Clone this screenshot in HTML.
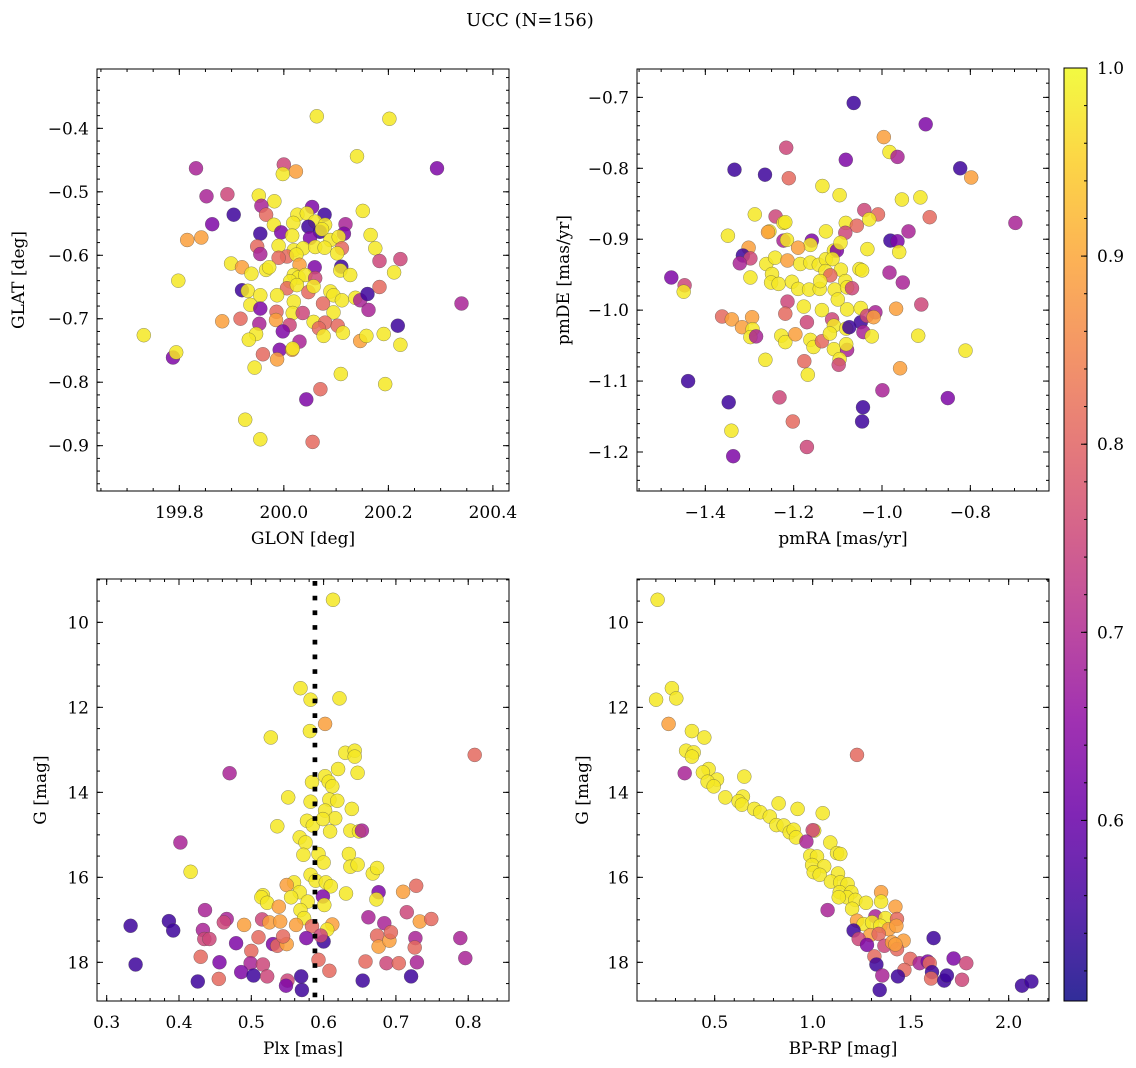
<!DOCTYPE html>
<html><head><meta charset="utf-8"><title>UCC (N=156)</title>
<style>
html,body{margin:0;padding:0;background:#fff;}
svg{display:block;font-family:"DejaVu Serif","Liberation Serif",serif;}
</style></head>
<body>
<svg id="fig" xmlns="http://www.w3.org/2000/svg" width="1136" height="1068" viewBox="0 0 1136 1068">
<rect width="1136" height="1068" fill="#fff"/>
<text x="530" y="26" font-size="18" text-anchor="middle">UCC (N=156)</text>
</svg>
<script>
// ---------- Panel 1 data: GLON / GLAT ----------
const glon=[200.063,200.202,200.140,199.832,200.293,200.000,200.023,199.998,199.852,199.892,199.952,199.982,199.957,199.966,199.904,199.863,200.054,200.078,200.026,200.044,199.981,200.018,200.060,200.079,200.047,200.118,200.151,199.955,199.995,200.016,200.069,200.073,200.115,200.089,200.105,200.050,199.815,199.842,200.166,200.175,200.111,199.949,199.955,199.990,200.019,200.037,200.060,200.078,200.102,200.006,199.990,200.024,200.183,200.223,199.899,199.920,199.938,199.966,199.972,200.059,200.110,200.108,200.127,200.211,200.030,200.019,200.028,200.041,200.012,200.060,200.006,200.025,200.047,200.057,199.798,199.920,199.931,199.955,199.987,200.019,200.089,200.095,200.111,200.137,200.146,200.160,200.183,200.075,200.095,200.162,199.936,199.955,199.986,199.985,200.017,200.036,199.882,199.917,199.953,200.011,200.057,200.079,200.103,200.113,200.067,200.076,199.998,199.947,199.933,200.030,199.992,200.016,200.017,199.960,199.987,199.944,200.146,200.158,200.191,200.223,200.218,200.340,199.732,199.788,199.794,200.109,200.194,200.070,200.043,199.926,199.955,200.055];
const glat=[-0.381,-0.385,-0.444,-0.463,-0.463,-0.457,-0.468,-0.472,-0.507,-0.504,-0.506,-0.515,-0.522,-0.536,-0.536,-0.551,-0.524,-0.536,-0.536,-0.534,-0.552,-0.549,-0.547,-0.552,-0.555,-0.551,-0.530,-0.566,-0.564,-0.569,-0.563,-0.559,-0.566,-0.576,-0.571,-0.573,-0.576,-0.572,-0.568,-0.589,-0.589,-0.586,-0.598,-0.585,-0.592,-0.589,-0.587,-0.588,-0.597,-0.602,-0.604,-0.599,-0.609,-0.606,-0.613,-0.619,-0.629,-0.623,-0.619,-0.619,-0.618,-0.624,-0.631,-0.627,-0.615,-0.631,-0.635,-0.631,-0.641,-0.636,-0.652,-0.647,-0.658,-0.649,-0.640,-0.655,-0.656,-0.663,-0.663,-0.673,-0.657,-0.663,-0.671,-0.667,-0.671,-0.661,-0.650,-0.676,-0.690,-0.686,-0.678,-0.684,-0.689,-0.702,-0.691,-0.691,-0.704,-0.700,-0.708,-0.710,-0.705,-0.706,-0.711,-0.722,-0.715,-0.727,-0.720,-0.724,-0.733,-0.736,-0.749,-0.749,-0.747,-0.756,-0.764,-0.777,-0.735,-0.727,-0.724,-0.741,-0.711,-0.676,-0.726,-0.761,-0.753,-0.787,-0.803,-0.811,-0.827,-0.859,-0.890,-0.894];
const prob1=[0.98,0.98,0.98,0.69,0.63,0.75,0.89,0.98,0.69,0.75,0.98,0.98,0.69,0.81,0.55,0.63,0.63,0.55,0.98,0.98,0.98,0.98,0.98,0.98,0.55,0.69,0.98,0.55,0.63,0.98,0.55,0.98,0.63,0.98,0.98,0.63,0.89,0.89,0.98,0.98,0.81,0.81,0.69,0.98,0.98,0.98,0.98,0.98,0.98,0.81,0.81,0.98,0.75,0.75,0.98,0.89,0.98,0.98,0.98,0.63,0.55,0.98,0.98,0.98,0.89,0.98,0.98,0.98,0.98,0.75,0.81,0.98,0.81,0.98,0.98,0.55,0.98,0.98,0.98,0.98,0.98,0.98,0.98,0.98,0.69,0.55,0.81,0.81,0.98,0.69,0.98,0.63,0.81,0.89,0.98,0.75,0.89,0.81,0.69,0.75,0.98,0.81,0.81,0.98,0.81,0.98,0.63,0.98,0.98,0.69,0.63,0.89,0.98,0.81,0.89,0.98,0.89,0.98,0.98,0.98,0.55,0.69,0.98,0.63,0.98,0.98,0.98,0.81,0.63,0.98,0.98,0.81];

// ---------- Panel 2 data: pmRA / pmDE ----------
const pmra=[-1.064,-0.901,-0.996,-0.983,-0.965,-1.217,-1.082,-1.334,-1.265,-1.211,-0.823,-0.798,-1.135,-1.096,-0.955,-0.913,-1.288,-1.241,-1.223,-1.219,-1.040,-1.009,-1.029,-0.892,-1.082,-1.057,-1.083,-0.940,-1.127,-1.349,-1.255,-1.258,-1.223,-1.215,-1.159,-1.162,-0.981,-0.965,-1.190,-1.302,-1.315,-1.298,-1.322,-1.262,-1.242,-1.214,-1.185,-1.162,-1.143,-1.127,-1.109,-1.102,-1.094,-1.112,-1.093,-1.128,-1.117,-1.051,-1.045,-0.961,-1.033,-1.477,-1.447,-1.449,-1.298,-1.249,-1.251,-1.234,-1.204,-1.190,-1.165,-1.141,-1.140,-1.107,-1.083,-1.079,-1.068,-1.100,-0.983,-0.953,-1.214,-1.177,-1.136,-1.219,-1.079,-1.048,-0.911,-0.968,-1.362,-1.340,-1.294,-1.170,-1.113,-1.109,-1.048,-1.034,-1.015,-1.019,-1.317,-1.293,-1.298,-1.285,-1.228,-1.219,-1.196,-1.162,-1.155,-1.136,-1.118,-1.081,-1.074,-1.042,-1.023,-0.918,-1.109,-1.079,-1.081,-1.096,-1.098,-1.264,-1.176,-1.168,-0.959,-0.811,-0.698,-1.439,-1.347,-1.232,-1.341,-1.202,-1.170,-1.337,-1.043,-1.045,-0.999,-0.851];
const pmde=[-0.708,-0.738,-0.756,-0.777,-0.784,-0.771,-0.788,-0.802,-0.809,-0.814,-0.800,-0.813,-0.825,-0.838,-0.844,-0.841,-0.865,-0.868,-0.877,-0.876,-0.859,-0.865,-0.872,-0.869,-0.877,-0.881,-0.891,-0.889,-0.889,-0.895,-0.889,-0.890,-0.902,-0.901,-0.902,-0.908,-0.902,-0.903,-0.912,-0.912,-0.923,-0.927,-0.934,-0.935,-0.926,-0.930,-0.935,-0.933,-0.936,-0.928,-0.916,-0.916,-0.905,-0.928,-0.943,-0.945,-0.951,-0.942,-0.944,-0.918,-0.914,-0.954,-0.965,-0.974,-0.954,-0.949,-0.961,-0.963,-0.960,-0.970,-0.971,-0.970,-0.959,-0.971,-0.959,-0.968,-0.969,-0.985,-0.947,-0.961,-0.988,-0.995,-1.000,-1.005,-0.999,-0.997,-0.992,-0.998,-1.009,-1.013,-1.010,-1.017,-1.013,-1.022,-1.017,-1.008,-1.003,-1.010,-1.024,-1.027,-1.038,-1.037,-1.036,-1.045,-1.034,-1.042,-1.052,-1.044,-1.033,-1.026,-1.024,-1.031,-1.037,-1.036,-1.055,-1.056,-1.048,-1.069,-1.077,-1.070,-1.072,-1.091,-1.082,-1.057,-0.877,-1.100,-1.130,-1.123,-1.170,-1.157,-1.193,-1.206,-1.137,-1.157,-1.113,-1.124];
const prob2=[0.55,0.63,0.89,0.98,0.69,0.75,0.63,0.55,0.55,0.81,0.55,0.89,0.98,0.98,0.98,0.98,0.98,0.75,0.98,0.98,0.75,0.81,0.98,0.81,0.98,0.81,0.75,0.69,0.98,0.98,0.98,0.89,0.69,0.98,0.63,0.98,0.55,0.63,0.89,0.89,0.55,0.75,0.69,0.98,0.98,0.89,0.98,0.98,0.98,0.98,0.98,0.63,0.98,0.98,0.98,0.98,0.81,0.98,0.98,0.98,0.98,0.63,0.75,0.98,0.98,0.98,0.98,0.98,0.98,0.98,0.98,0.98,0.98,0.98,0.98,0.98,0.75,0.98,0.69,0.69,0.75,0.98,0.98,0.81,0.98,0.98,0.75,0.89,0.81,0.89,0.89,0.75,0.75,0.98,0.55,0.75,0.69,0.89,0.89,0.98,0.98,0.69,0.98,0.98,0.89,0.98,0.98,0.81,0.98,0.98,0.55,0.69,0.98,0.98,0.98,0.69,0.98,0.98,0.75,0.98,0.81,0.98,0.89,0.98,0.69,0.55,0.55,0.75,0.98,0.81,0.75,0.63,0.55,0.55,0.69,0.63];

// ---------- Panel 3 data: Plx / G ----------
const plx=[0.613,0.568,0.582,0.622,0.602,0.581,0.527,0.809,0.630,0.643,0.643,0.470,0.620,0.647,0.602,0.584,0.607,0.612,0.551,0.582,0.608,0.619,0.602,0.616,0.639,0.577,0.585,0.599,0.536,0.609,0.637,0.649,0.653,0.402,0.567,0.575,0.572,0.593,0.600,0.635,0.637,0.647,0.416,0.668,0.674,0.582,0.589,0.603,0.610,0.559,0.549,0.567,0.631,0.676,0.710,0.728,0.516,0.514,0.555,0.599,0.673,0.522,0.578,0.601,0.538,0.568,0.436,0.573,0.386,0.466,0.462,0.490,0.515,0.525,0.540,0.562,0.584,0.612,0.605,0.662,0.684,0.715,0.733,0.749,0.333,0.392,0.433,0.435,0.442,0.479,0.510,0.530,0.536,0.549,0.544,0.576,0.600,0.596,0.674,0.676,0.691,0.693,0.727,0.726,0.789,0.430,0.500,0.340,0.456,0.499,0.516,0.593,0.608,0.658,0.687,0.704,0.729,0.796,0.486,0.503,0.522,0.426,0.455,0.550,0.548,0.569,0.570,0.654,0.721];
const gmag3=[9.47,11.55,11.82,11.79,12.39,12.56,12.71,13.12,13.07,13.02,13.16,13.55,13.45,13.54,13.62,13.76,13.75,13.86,14.12,14.22,14.17,14.20,14.43,14.61,14.39,14.67,14.78,14.63,14.80,14.92,14.90,14.92,14.90,15.18,15.06,15.18,15.47,15.45,15.65,15.45,15.75,15.70,15.87,15.91,15.78,15.94,16.08,16.12,16.21,16.12,16.18,16.35,16.38,16.35,16.34,16.20,16.42,16.47,16.47,16.45,16.52,16.60,16.57,16.65,16.69,16.77,16.77,16.96,17.03,16.98,17.06,17.12,16.99,17.06,17.04,17.12,17.15,17.11,17.23,16.94,17.08,16.82,17.04,16.98,17.14,17.25,17.24,17.45,17.45,17.55,17.41,17.57,17.61,17.57,17.39,17.43,17.51,17.37,17.37,17.63,17.49,17.29,17.43,17.65,17.43,17.87,17.73,18.05,18.00,18.02,18.05,17.94,18.20,17.98,18.02,18.02,18.00,17.90,18.23,18.31,18.33,18.45,18.39,18.43,18.55,18.33,18.65,18.43,18.33];
const prob3=[0.98,0.98,0.98,0.98,0.89,0.98,0.98,0.81,0.98,0.98,0.98,0.69,0.98,0.98,0.98,0.98,0.98,0.98,0.98,0.98,0.98,0.98,0.98,0.98,0.98,0.98,0.98,0.98,0.98,0.98,0.98,0.98,0.69,0.69,0.98,0.98,0.98,0.98,0.98,0.98,0.98,0.98,0.98,0.98,0.98,0.98,0.98,0.98,0.98,0.98,0.89,0.98,0.98,0.63,0.89,0.81,0.98,0.98,0.98,0.63,0.98,0.98,0.98,0.98,0.89,0.98,0.69,0.98,0.55,0.69,0.75,0.89,0.75,0.89,0.89,0.89,0.81,0.89,0.98,0.69,0.69,0.75,0.89,0.81,0.55,0.55,0.69,0.75,0.75,0.63,0.81,0.63,0.81,0.89,0.81,0.63,0.55,0.75,0.81,0.89,0.89,0.81,0.69,0.81,0.69,0.81,0.81,0.55,0.63,0.69,0.75,0.81,0.81,0.81,0.75,0.81,0.69,0.69,0.63,0.55,0.75,0.55,0.81,0.75,0.63,0.55,0.55,0.55,0.55];
const plxLine=[0.588];

// ---------- Panel 4 data: BP-RP / G ----------
const bprp=[0.209,0.201,0.282,0.304,0.265,0.384,0.447,0.354,0.393,0.384,0.347,0.469,0.440,0.512,0.464,0.495,0.651,1.226,0.554,0.644,0.622,0.639,0.702,0.733,0.826,0.923,1.051,0.781,0.815,0.852,0.883,0.903,0.915,1.008,1.000,0.968,1.090,1.124,1.141,0.988,1.022,0.997,1.059,1.005,1.036,1.129,1.093,1.141,1.178,1.138,1.197,1.175,1.218,1.133,1.272,1.201,1.076,1.349,1.349,1.422,1.320,1.226,1.260,1.303,1.371,1.430,1.345,1.388,1.427,1.209,1.294,1.337,1.235,1.277,1.366,1.405,1.464,1.430,1.422,1.617,1.315,1.325,1.498,1.546,1.587,1.597,1.468,1.609,1.604,1.435,1.355,1.342,1.671,1.685,1.719,1.784,1.762,2.068,2.116];
const gmag4=[9.47,11.82,11.55,11.79,12.39,12.56,12.71,13.02,13.06,13.16,13.55,13.45,13.53,13.70,13.75,13.86,13.63,13.12,14.12,14.10,14.21,14.29,14.39,14.47,14.26,14.39,14.49,14.57,14.77,14.78,14.94,14.88,15.06,14.90,14.89,15.16,15.18,15.43,15.45,15.49,15.51,15.71,15.74,15.88,15.94,15.91,16.10,16.12,16.16,16.35,16.35,16.47,16.53,16.47,16.60,16.74,16.77,16.35,16.57,16.69,16.92,17.02,17.10,17.06,16.96,16.98,17.14,17.22,17.14,17.25,17.36,17.33,17.45,17.59,17.61,17.53,17.49,17.69,17.58,17.43,17.86,18.05,17.92,18.02,17.98,18.02,18.18,18.23,18.38,18.33,18.31,18.65,18.43,18.31,17.91,18.02,18.41,18.55,18.45];
const prob4=[0.98,0.98,0.98,0.98,0.89,0.98,0.98,0.98,0.98,0.98,0.69,0.98,0.98,0.98,0.98,0.98,0.98,0.81,0.98,0.98,0.98,0.98,0.98,0.98,0.98,0.98,0.98,0.98,0.98,0.98,0.98,0.98,0.98,0.98,0.75,0.69,0.98,0.98,0.98,0.98,0.98,0.98,0.98,0.98,0.98,0.98,0.98,0.98,0.98,0.98,0.98,0.98,0.98,0.98,0.98,0.98,0.69,0.89,0.98,0.89,0.69,0.89,0.98,0.98,0.98,0.81,0.98,0.89,0.89,0.55,0.89,0.81,0.75,0.63,0.75,0.89,0.89,0.81,0.89,0.55,0.81,0.55,0.81,0.69,0.63,0.81,0.81,0.55,0.81,0.55,0.69,0.55,0.55,0.55,0.63,0.75,0.75,0.55,0.55];

// ---------- Colorbar ----------
const cbTicks=[0.6,0.7,0.8,0.9,1.0];
const cbRange=[0.504,1.0];

const NS="http://www.w3.org/2000/svg";
const svg=document.getElementById('fig');
function mk(tag,attrs,parent){const e=document.createElementNS(NS,tag);for(const k in attrs)e.setAttribute(k,attrs[k]);(parent||svg).appendChild(e);return e;}

const plasmaStops=[[13,8,135],[65,4,157],[106,0,168],[143,13,164],[177,42,144],[204,71,120],[225,100,98],[242,132,75],[252,166,54],[252,206,37],[240,249,33]];
function plasma(t){t=Math.max(0,Math.min(1,t));const s=t*10;const i=Math.min(9,Math.floor(s));const f=s-i;const a=plasmaStops[i],b=plasmaStops[i+1];
 return 'rgb('+[0,1,2].map(k=>Math.round(a[k]+(b[k]-a[k])*f)).join(',')+')';}
function cmap(v){return plasma((v-cbRange[0])/(cbRange[1]-cbRange[0]));}

function fmt(v,dec){const s=Math.abs(v).toFixed(dec);return (v<-1e-9?'\u2212':'')+s;}

function panel(cfg){
 const {x0,x1,y0,y1,xd,yd,name}=cfg;
 const sx=v=>x0+(v-xd[0])/(xd[1]-xd[0])*(x1-x0);
 const sy=v=>y1-(v-yd[0])/(yd[1]-yd[0])*(y1-y0);
 const g=mk('g',{});
 
 
 const defs=mk('clipPath',{id:'clip-'+name},g);
 mk('rect',{x:x0,y:y0,width:x1-x0,height:y1-y0},defs);
 const pts=mk('g',{'clip-path':'url(#clip-'+name+')'},g);
 
 
 for(let i=0;i<cfg.xs.length;i++){
  const c=mk('circle',{cx:sx(cfg.xs[i]).toFixed(1),cy:sy(cfg.ys[i]).toFixed(1),r:7,fill:cmap(cfg.cs[i]),'fill-opacity':0.85,stroke:'#444','stroke-width':0.5,'stroke-opacity':0.6},pts);
  
  
 }
 if(cfg.vline){const l=mk('line',{x1:sx(cfg.vline[0]),x2:sx(cfg.vline[0]),y1:y0+2,y2:y1,stroke:'#000','stroke-width':4.7,'stroke-dasharray':'4.7 10'},pts);
  
  }
 mk('rect',{x:x0,y:y0,width:x1-x0,height:y1-y0,fill:'none',stroke:'#000','stroke-width':1},g);
 const tk=mk('g',{stroke:'#000','stroke-width':1},g);
 function ticks(dom,step,len,isX,labels){
  const lo=Math.min(dom[0],dom[1]),hi=Math.max(dom[0],dom[1]);
  const n0=Math.ceil(lo/step-1e-6),n1=Math.floor(hi/step+1e-6);
  for(let n=n0;n<=n1;n++){const v=n*step;
   if(isX){const p=sx(v);mk('line',{x1:p,x2:p,y1:y1,y2:y1-len},tk);mk('line',{x1:p,x2:p,y1:y0,y2:y0+len},tk);
    if(labels){const t=mk('text',{x:p,y:y1+27,'font-size':17,'text-anchor':'middle'},g);t.textContent=fmt(v,cfg.xdec);
     }}
   else{const p=sy(v);mk('line',{y1:p,y2:p,x1:x0,x2:x0+len},tk);mk('line',{y1:p,y2:p,x1:x1,x2:x1-len},tk);
    if(labels){const t=mk('text',{x:x0-8,y:p+6,'font-size':17,'text-anchor':'end'},g);t.textContent=fmt(v,cfg.ydec);
     }}
  }
 }
 ticks(xd,cfg.xmin,3,true,false);ticks(xd,cfg.xmaj,6,true,true);
 ticks(yd,cfg.ymin,3,false,false);ticks(yd,cfg.ymaj,6,false,true);
 const xl=mk('text',{x:(x0+x1)/2,y:y1+53,'font-size':17,'text-anchor':'middle'},g);xl.textContent=cfg.xlabel;
 
 const yx=cfg.ylx,yy=(y0+y1)/2;
 const yl=mk('text',{x:yx,y:yy,'font-size':17,'text-anchor':'middle',transform:'rotate(-90 '+yx+' '+yy+')'},g);yl.textContent=cfg.ylabel;
 
}

panel({name:'glon-glat-panel',x0:97,x1:509,y0:69,y1:491,xd:[199.6425,200.4308],yd:[-0.9714,-0.3065],xs:glon,ys:glat,cs:prob1,
 xmaj:0.2,xmin:0.05,ymaj:0.1,ymin:0.02,xdec:1,ydec:1,xlabel:'GLON [deg]',ylabel:'GLAT [deg]',ylx:24});
panel({name:'pm-panel',x0:637,x1:1049,y0:69,y1:491,xd:[-1.5547,-0.6219],yd:[-1.255,-0.66],xs:pmra,ys:pmde,cs:prob2,
 xmaj:0.2,xmin:0.05,ymaj:0.1,ymin:0.02,xdec:1,ydec:1,xlabel:'pmRA [mas/yr]',ylabel:'pmDE [mas/yr]',ylx:569});
panel({name:'plx-g-panel',x0:97,x1:509,y0:579,y1:1001,xd:[0.2866,0.8564],yd:[18.91,8.98],xs:plx,ys:gmag3,cs:prob3,vline:plxLine,
 xmaj:0.1,xmin:0.02,ymaj:2,ymin:0.5,xdec:1,ydec:0,xlabel:'Plx [mas]',ylabel:'G [mag]',ylx:46});
panel({name:'cmd-panel',x0:637,x1:1049,y0:579,y1:1001,xd:[0.1037,2.2057],yd:[18.91,8.98],xs:bprp,ys:gmag4,cs:prob4,
 xmaj:0.5,xmin:0.1,ymaj:2,ymin:0.5,xdec:1,ydec:0,xlabel:'BP-RP [mag]',ylabel:'G [mag]',ylx:588});

(function(){
 const x0=1064,x1=1087,y0=68,y1=1001;
 const g=mk('g',{});
 
 
 const defs=mk('defs',{},g);
 const lg=mk('linearGradient',{id:'cbgrad',x1:0,y1:1,x2:0,y2:0},defs);
 for(let i=0;i<=20;i++){mk('stop',{offset:(i/20),'stop-color':plasma(i/20),'stop-opacity':0.85},lg);}
 mk('rect',{x:x0,y:y0,width:x1-x0,height:y1-y0,fill:'url(#cbgrad)',stroke:'#000','stroke-width':1},g);
 const sy=v=>y1-(v-cbRange[0])/(cbRange[1]-cbRange[0])*(y1-y0);
 for(let n=Math.ceil(cbRange[0]/0.02);n<=Math.floor(cbRange[1]/0.02+1e-6);n++){const p=sy(n*0.02);mk('line',{x1:x1,x2:x1-3,y1:p,y2:p,stroke:'#000','stroke-width':1},g);}
 cbTicks.forEach(v=>{const p=sy(v);mk('line',{x1:x1,x2:x1-6,y1:p,y2:p,stroke:'#000','stroke-width':1},g);
  const t=mk('text',{x:x1+10,y:p+6,'font-size':17},g);t.textContent=v.toFixed(1);
  });
})();
</script>
</body></html>
